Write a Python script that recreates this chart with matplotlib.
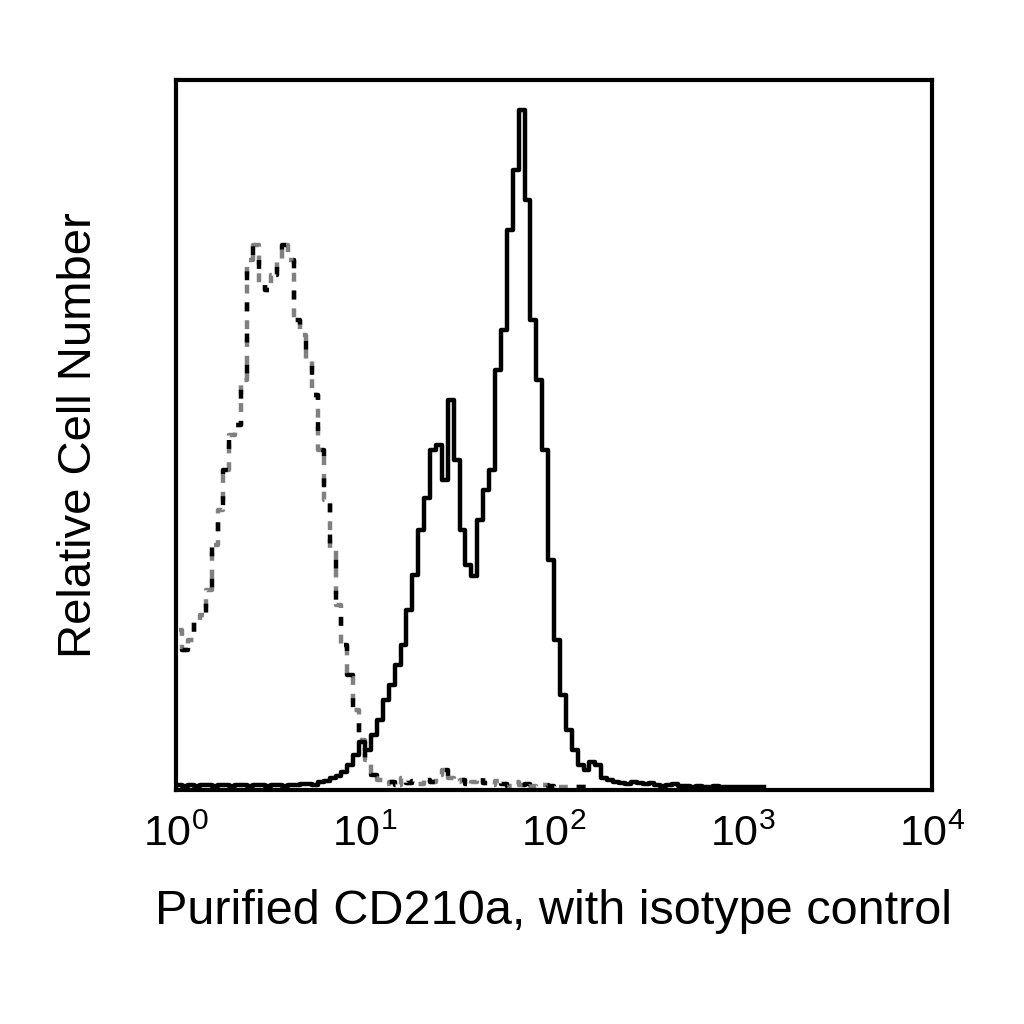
import numpy as np
import matplotlib
matplotlib.use("Agg")
import matplotlib.pyplot as plt

plt.rcParams['font.family'] = ['Liberation Sans', 'DejaVu Sans']
plt.rcParams['mathtext.default'] = 'regular'

# histogram bins: 32 per decade, log10 of the first bin's left edge is 0
bin_width = 1.0 / 32

# isotype control (dashed), counts per bin starting at bin 0
isotype = [160, 140, 150, 170, 175, 200, 245, 280, 320, 355,
           365, 410, 530, 545, 505, 500, 515, 530, 545, 530,
           470, 455, 430, 395, 340, 290, 240, 185, 145, 115,
           80, 50, 30, 15, 10, 6, 8, 5, 12, 7,
           9, 6, 10, 8, 15, 20, 12, 8, 10, 6,
           8, 12, 7, 5, 9, 6, 4, 8, 5, 6,
           4, 3, 5, 4, 3, 3, 3, 3, 3, 3]

# purified CD210a (solid), counts per bin starting at bin 0
sample = [5, 4, 5, 4, 5, 5, 4, 5, 5, 4,
          5, 5, 4, 5, 5, 4, 5, 5, 4, 5,
          5, 6, 6, 5, 8, 9, 12, 14, 18, 25,
          35, 48, 40, 55, 70, 90, 105, 125, 145, 180,
          215, 260, 292, 340, 345, 310, 390, 330, 260, 225,
          214, 270, 300, 320, 420, 460, 560, 620, 680, 590,
          470, 410, 340, 230, 150, 95, 60, 40, 25, 20,
          28, 25, 12, 10, 8, 7, 6, 8, 7, 6,
          7, 5, 4, 5, 6, 4, 4, 3, 4, 3,
          3, 4, 3, 3, 3, 3, 3, 3, 3, 3]

x_iso = 10 ** ((np.arange(len(isotype)) + 0.5) * bin_width)
x_smp = 10 ** ((np.arange(len(sample)) + 0.5) * bin_width)

fig = plt.figure(figsize=(10.24, 10.24), dpi=100)
ax = fig.add_axes([0.172, 0.2285, 0.738, 0.693])

ax.plot(x_iso, isotype, drawstyle='steps-mid', color='#808080', lw=3.2,
        linestyle=(0, (2, 2)))
ax.plot(x_iso, isotype, drawstyle='steps-mid', color='black', lw=3.2,
        linestyle=(2, (2, 5)))
ax.plot(x_smp, sample, drawstyle='steps-mid', color='black', lw=3.2)

ax.set_xscale('log')
ax.set_xlim(1, 1e4)
ax.set_ylim(0, 710)
ax.set_yticks([])
ax.minorticks_off()
ax.set_xticks([1, 10, 100, 1000, 10000])
ax.tick_params(axis='x', length=0, pad=18, labelsize=31)
for s in ax.spines.values():
    s.set_linewidth(3)

ax.set_xlabel("Purified CD210a, with isotype control", fontsize=35, labelpad=24)
ax.set_ylabel("Relative Cell Number", fontsize=34, labelpad=54)

fig.savefig("out.png", dpi=100)
